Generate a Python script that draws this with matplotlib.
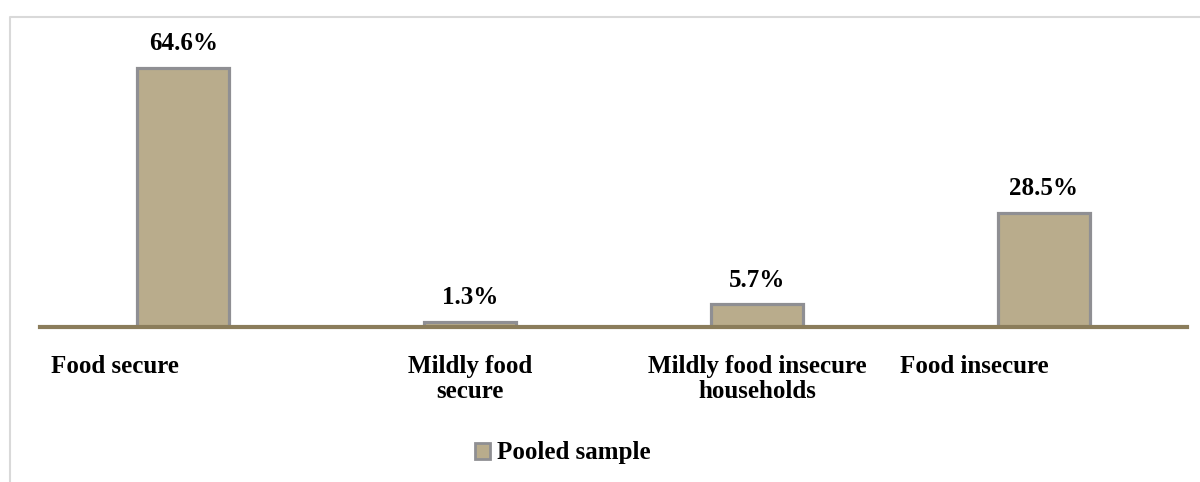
import matplotlib.pyplot as plt
from matplotlib.lines import Line2D
from matplotlib.patches import Patch

categories = ["Food secure", "Mildly food\nsecure", "Mildly food insecure\nhouseholds", "Food insecure"]
pooled = [64.6, 1.3, 5.7, 28.5]
series_name = "Pooled sample"

bar_color = "#B9AC8C"
edge_color = "#8F8F93"
base_color = "#8B7D5B"

plt.rcParams["font.family"] = ["Liberation Serif", "DejaVu Serif"]
plt.rcParams["font.weight"] = "bold"

fig = plt.figure(figsize=(12, 4.82), dpi=100)
ax = fig.add_axes([40 / 1200, 155 / 482, 1147 / 1200, 281 / 482])

x = list(range(len(categories)))
ax.bar(x, pooled, width=0.32, color=bar_color, edgecolor=edge_color, linewidth=2.3, zorder=2)

for xi, v in zip(x, pooled):
    ax.annotate(f"{v}%", (xi, v), xytext=(0, 9), textcoords="offset points",
                ha="center", va="bottom", fontsize=18, fontweight="bold")

ax.set_xlim(-0.5, len(categories) - 0.5)
ax.set_ylim(0, 70)
ax.set_yticks([])
ax.set_xticks([])
for s in ["top", "right", "left"]:
    ax.spines[s].set_visible(False)
ax.spines["bottom"].set_color(base_color)
ax.spines["bottom"].set_linewidth(3)
ax.spines["bottom"].set_zorder(3)

# category labels (Excel-style placement)
label_pos = [(-0.46, "left"), (1, "center"), (2, "center"), (2.5, "left")]
for (lx, ha), lab in zip(label_pos, categories):
    ax.annotate(lab, (lx, 0), xytext=(0, -20), textcoords="offset points",
                ha=ha, va="top", fontsize=18, fontweight="bold", linespacing=1.15)

handle = Patch(facecolor=bar_color, edgecolor=edge_color, linewidth=2)
fig.legend([handle], [series_name], loc="center", bbox_to_anchor=(563 / 1200, 1 - 453 / 482),
           frameon=False, fontsize=18, handlelength=0.6, handleheight=0.6, handletextpad=0.3)

# chart area border (top and left visible)
fig.add_artist(Line2D([10 / 1200, 10 / 1200, 1.0], [0, 1 - 16.5 / 482, 1 - 16.5 / 482],
                      transform=fig.transFigure, color="#D9D9D9", linewidth=1.5))

fig.savefig("out.png", dpi=100)
